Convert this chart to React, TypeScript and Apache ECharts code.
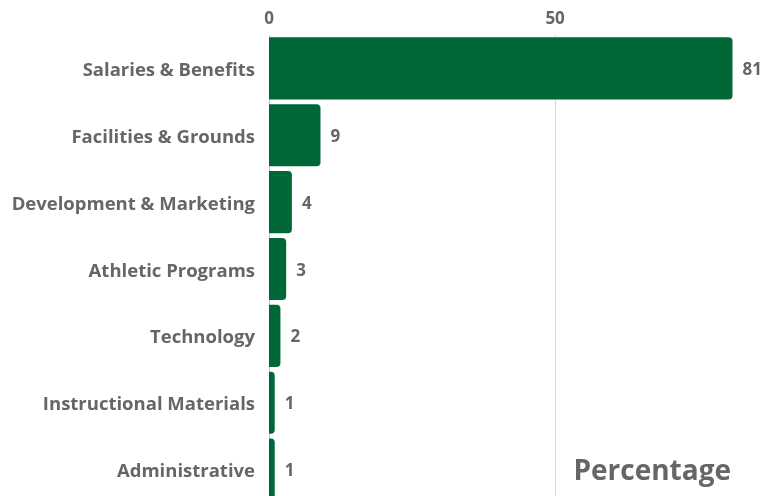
import React, { useEffect, useRef } from "react";
import * as echarts from "echarts";

const categories = [
  "Salaries & Benefits",
  "Facilities & Grounds",
  "Development & Marketing",
  "Athletic Programs",
  "Technology",
  "Instructional Materials",
  "Administrative",
];
const values = [81, 9, 4, 3, 2, 1, 1];
const axisTitle = "Percentage";

export default function App() {
  const ref = useRef<HTMLDivElement>(null);
  useEffect(() => {
    const chart = echarts.init(ref.current!, null, { renderer: "svg" });
    const font = "'Open Sans', sans-serif";
    chart.setOption({
      animation: false,
      grid: {
        left: 269,
        top: 35,
        width: 515,
        height: 468,
        containLabel: false,
        outerBoundsMode: "none",
      },
      xAxis: {
        type: "value",
        position: "top",
        min: 0,
        max: 90,
        interval: 50,
        axisLine: { show: false },
        axisTick: { show: false },
        axisLabel: {
          showMaxLabel: false,
          color: "#666",
          fontFamily: font,
          fontWeight: "bold",
          fontSize: 17,
          margin: 9,
        },
        splitLine: { show: true, lineStyle: { color: "#d9d9d9", width: 1 } },
      },
      yAxis: {
        type: "category",
        inverse: true,
        data: categories,
        axisLine: { show: true, lineStyle: { color: "#cccccc", width: 1 } },
        axisTick: { show: false },
        axisLabel: {
          color: "#666",
          fontFamily: font,
          fontWeight: "bold",
          fontSize: 18.5,
          margin: 14,
        },
      },
      series: [
        {
          type: "bar",
          data: values,
          barCategoryGap: "7%",
          itemStyle: { color: "#006837", borderRadius: [0, 4, 4, 0] },
          label: {
            show: true,
            position: "right",
            distance: 10,
            color: "#666",
            fontFamily: font,
            fontWeight: "bold",
            fontSize: 17,
          },
        },
      ],
      graphic: [
        {
          type: "text",
          right: 32,
          top: 455,
          style: {
            text: axisTitle,
            fill: "#666",
            font: "bold 28px 'Open Sans', sans-serif",
          },
        },
      ],
    });
    return () => chart.dispose();
  }, []);
  return (
    <div
      ref={ref}
      style={{ position: "fixed", left: 0, top: 0, width: 763, height: 496 }}
    />
  );
}
